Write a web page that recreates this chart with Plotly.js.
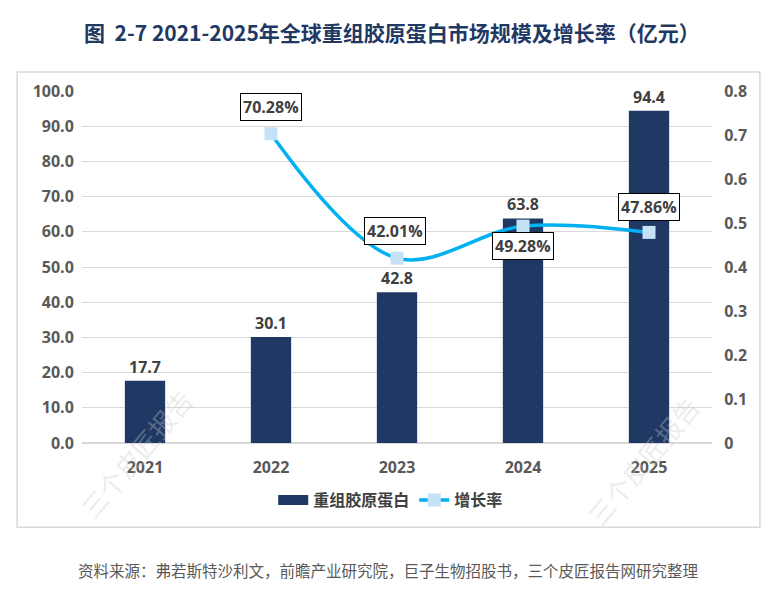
<!DOCTYPE html>
<html>
<head>
<meta charset="utf-8">
<script src="https://cdn.plot.ly/plotly-3.0.1.min.js"></script>
<style>
html,body{margin:0;padding:0;background:#fff;}
#chart{width:782px;height:592px;}
</style>
</head>
<body>
<div id="chart"></div>
<script>
const years = ['2021', '2022', '2023', '2024', '2025'];
const marketSize = [17.7, 30.1, 42.8, 63.8, 94.4];
const growthYears = ['2022', '2023', '2024', '2025'];
const growthRate = [0.7028, 0.4201, 0.4928, 0.4786];
const growthLabels = ['70.28%', '42.01%', '49.28%', '47.86%'];
const leftTicks = [0, 10, 20, 30, 40, 50, 60, 70, 80, 90, 100];
const rightTicks = [0, 0.1, 0.2, 0.3, 0.4, 0.5, 0.6, 0.7, 0.8];

const FONT = '"Open Sans", "Noto Sans CJK SC", sans-serif';
const CJK = '"Noto Sans CJK SC", sans-serif';
const tickFont = {family: FONT, size: 16, color: '#595959', weight: 700};

// growth label offsets (style): [ax, ay]
const labelOffsets = [[0, -27], [-2, -27], [0, 20], [0, -25]];

const traces = [
  {
    type: 'bar', x: years, y: marketSize, name: '重组胶原蛋白',
    marker: {color: '#1f3864'}, width: 0.32, showlegend: false, legendgroup: 'bar',
    text: marketSize.map(v => v.toFixed(1)), textposition: 'outside',
    textfont: {family: FONT, size: 16, color: '#404040', weight: 700},
    cliponaxis: false, hoverinfo: 'skip'
  },
  {
    // legend-only swatch for the bar series (wide rectangle like the reference)
    type: 'scatter', mode: 'lines', x: [null], y: [null], name: '重组胶原蛋白',
    legendgroup: 'bar', line: {color: '#1f3864', width: 12}, hoverinfo: 'skip'
  },
  {
    type: 'scatter', mode: 'lines+markers', x: growthYears, y: growthRate, yaxis: 'y2',
    name: '增长率',
    line: {color: '#00b0f0', width: 3.5, shape: 'spline', smoothing: 1.0},
    marker: {symbol: 'square', size: 13, color: '#c6e2f7'},
    cliponaxis: false, hoverinfo: 'skip'
  }
];

const annotations = growthYears.map((y, i) => ({
  x: years.indexOf(y), y: growthRate[i], xref: 'x', yref: 'y2',
  text: growthLabels[i], showarrow: true, arrowcolor: 'rgba(0,0,0,0)',
  ax: labelOffsets[i][0], ay: labelOffsets[i][1],
  font: {family: FONT, size: 16, color: '#404040', weight: 700},
  bgcolor: '#ffffff', bordercolor: '#000000', borderwidth: 1, borderpad: 2
}));

annotations.push({
  xref: 'paper', yref: 'paper', x: 0.486, y: -0.361, xanchor: 'center', yanchor: 'middle',
  text: '资料来源：弗若斯特沙利文，前瞻产业研究院，巨子生物招股书，三个皮匠报告网研究整理',
  showarrow: false, font: {family: CJK, size: 15.5, color: '#595959'}
});
// watermarks
[[0.085, -0.03], [0.89, -0.05]].forEach(p => {
  annotations.push({
    xref: 'paper', yref: 'paper', x: p[0], y: p[1], xanchor: 'center', yanchor: 'middle',
    text: '三个皮匠报告', showarrow: false, textangle: -50,
    font: {family: CJK, size: 26, color: 'rgba(200,200,200,0.35)'}
  });
});

const layout = {
  width: 782, height: 592,
  margin: {l: 82, r: 70, t: 91, b: 149},
  paper_bgcolor: '#ffffff', plot_bgcolor: '#ffffff',
  title: {
    text: '<b>图  2-7 2021-2025年全球重组胶原蛋白市场规模及增长率（亿元）</b>',
    font: {family: CJK, size: 21, color: '#1f3864'},
    x: 0.492, xanchor: 'center', y: 0.944, yanchor: 'middle', xref: 'paper'
  },
  xaxis: {
    type: 'category', range: [-0.5, years.length - 0.5], autorange: false,
    tickfont: tickFont, showgrid: false, zeroline: false,
    showline: false, ticks: 'outside', ticklen: 10, tickcolor: 'rgba(0,0,0,0)'
  },
  yaxis: {
    range: [0, 100], tickvals: leftTicks, ticktext: leftTicks.map(v => v.toFixed(1)),
    tickfont: tickFont, gridcolor: '#d9d9d9', gridwidth: 1, zeroline: true,
    zerolinecolor: '#d9d9d9', zerolinewidth: 1.5, showline: false, ticks: 'outside',
    ticklen: 4, tickcolor: 'rgba(0,0,0,0)'
  },
  yaxis2: {
    range: [0, 0.8], overlaying: 'y', side: 'right', tickvals: rightTicks,
    ticktext: rightTicks.map(v => v === 0 ? '0' : String(v)),
    tickfont: tickFont, showgrid: false, zeroline: false, showline: false, ticks: 'outside',
    ticklen: 8, tickcolor: 'rgba(0,0,0,0)'
  },
  showlegend: true,
  legend: {
    orientation: 'h', x: 0.49, xanchor: 'center', y: -0.162, yanchor: 'middle',
    font: {family: CJK, size: 16, color: '#404040', weight: 700},
    tracegroupgap: 0, traceorder: 'normal'
  },
  annotations: annotations,
  shapes: [{
    type: 'rect', xref: 'paper', yref: 'paper',
    x0: -0.103, x1: 1.076, y0: -0.239, y1: 1.054,
    line: {color: '#d9d9d9', width: 1.5}, fillcolor: 'rgba(0,0,0,0)', layer: 'below'
  }]
};

Plotly.newPlot('chart', traces, layout, {displayModeBar: false, staticPlot: true});
</script>
</body>
</html>
